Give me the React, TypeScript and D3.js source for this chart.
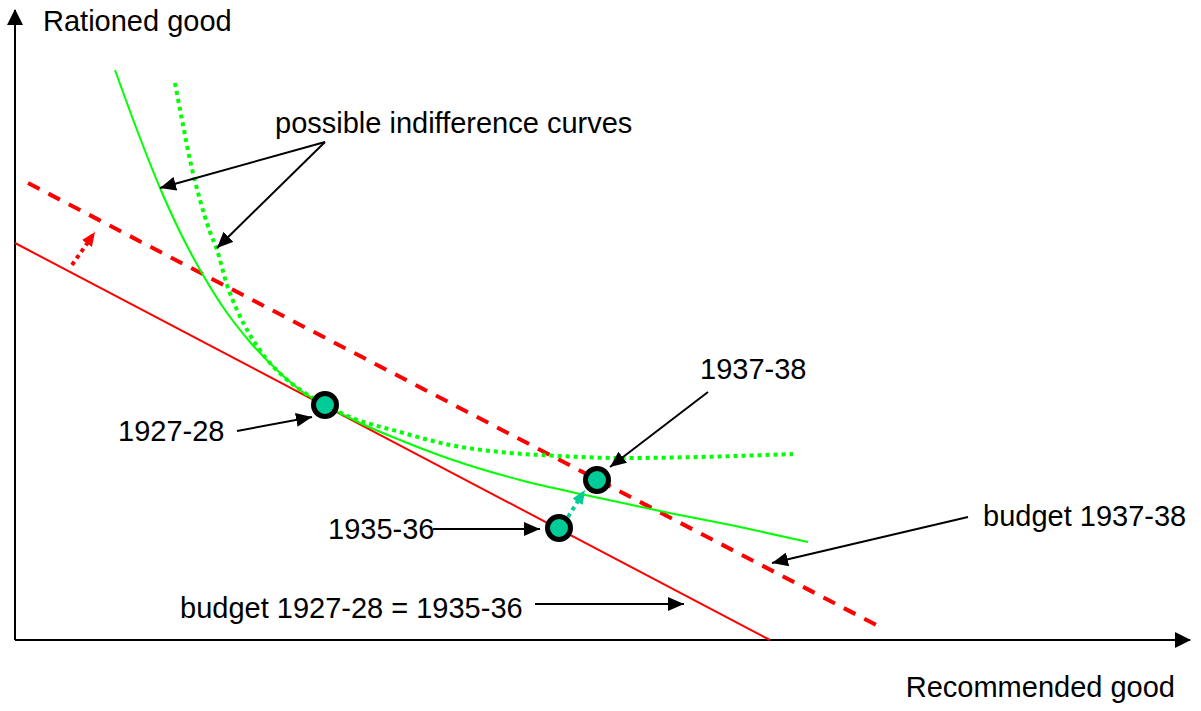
import * as d3 from 'd3'

// chart units: x = quantity of recommended good, y = quantity of rationed good
const budget1927 = [[0, 397], [755, 0]]
const budget1937 = [[13, 457], [867, 12]]

const indifferenceSolid = [
  [100, 570], [122, 510], [145, 452], [165, 408], [188, 365], [210, 330],
  [235, 298], [265, 267], [285, 250], [310, 235], [345, 217], [385, 200],
  [435, 181], [505, 160], [575, 144], [645, 129], [725, 113], [793, 98],
]

const indifferenceDotted = [
  [160, 557], [168, 515], [175, 480], [185, 440], [195, 408], [202, 390],
  [212, 355], [222, 330], [235, 305], [250, 283], [270, 262], [290, 247],
  [310, 235], [335, 223], [385, 208], [435, 195], [485, 188], [545, 184],
  [605, 182], [685, 183], [778, 186],
]

const observations = [
  { year: '1927-28', x: 310, y: 235 },
  { year: '1935-36', x: 544, y: 112 },
  { year: '1937-38', x: 582, y: 160 },
]

// shift of the budget line and of the chosen bundle
const budgetShift = [[57, 375], [80, 408]]
const bundleShift = [[553, 123], [570, 150]]

const labels = [
  { text: 'Rationed good', x: 28, y: 609, anchor: 'start' },
  { text: 'Recommended good', x: 1160, y: -57, anchor: 'end' },
  { text: 'possible indifference curves', x: 260, y: 507, anchor: 'start' },
  { text: '1927-28', x: 103, y: 199, anchor: 'start' },
  { text: '1937-38', x: 685, y: 261, anchor: 'start' },
  { text: '1935-36', x: 313, y: 101, anchor: 'start' },
  { text: 'budget 1937-38', x: 968, y: 114, anchor: 'start' },
  { text: 'budget 1927-28 = 1935-36', x: 165, y: 22, anchor: 'start' },
]

const pointers = [
  [[310, 498], [145, 452]],
  [[310, 498], [202, 392]],
  [[222, 209], [297, 223]],
  [[693, 248], [595, 173]],
  [[418, 111], [525, 111]],
  [[953, 123], [757, 77]],
  [[520, 36], [669, 36]],
]

const W = 1201
const H = 711

export default function App() {
  const x = d3.scaleLinear().domain([0, 1175]).range([15, 1190])
  const y = d3.scaleLinear().domain([0, 630]).range([640, 10])
  const line = d3.line<number[]>().x(d => x(d[0])).y(d => y(d[1]))
  const smooth = d3.line<number[]>().x(d => x(d[0])).y(d => y(d[1])).curve(d3.curveMonotoneX)
  const font = '"Liberation Sans", Arial, sans-serif'

  return (
    <svg width={W} height={H} style={{ position: 'absolute', left: 0, top: 0, background: '#fff' }}>
      <defs>
        <marker id="blackHead" viewBox="0 0 16 14" refX="16" refY="7" markerWidth="16" markerHeight="14"
          markerUnits="userSpaceOnUse" orient="auto">
          <path d="M0,0 L16,7 L0,14 Z" fill="#000" />
        </marker>
        <marker id="axisHead" viewBox="0 0 16 16" refX="15" refY="8" markerWidth="16" markerHeight="16"
          markerUnits="userSpaceOnUse" orient="auto">
          <path d="M0,0 L16,8 L0,16 Z" fill="#000" />
        </marker>
        <marker id="redHead" viewBox="0 0 14 12" refX="14" refY="6" markerWidth="14" markerHeight="12"
          markerUnits="userSpaceOnUse" orient="auto">
          <path d="M0,0 L14,6 L0,12 Z" fill="#ff0000" />
        </marker>
        <marker id="tealHead" viewBox="0 0 14 12" refX="14" refY="6" markerWidth="14" markerHeight="12"
          markerUnits="userSpaceOnUse" orient="auto">
          <path d="M0,0 L14,6 L0,12 Z" fill="#00cc99" />
        </marker>
      </defs>

      {/* axes */}
      <line x1={x(0)} y1={y(0)} x2={x(0)} y2={y(630)} stroke="#000" strokeWidth={2} markerEnd="url(#axisHead)" />
      <line x1={x(0)} y1={y(0)} x2={x(1175)} y2={y(0)} stroke="#000" strokeWidth={2} markerEnd="url(#axisHead)" />

      {/* budget lines */}
      <path d={line(budget1927)!} stroke="#ff0000" strokeWidth={2} fill="none" />
      <path d={line(budget1937)!} stroke="#ff0000" strokeWidth={4} strokeDasharray="13,10" fill="none" />

      {/* indifference curves */}
      <path d={smooth(indifferenceSolid)!} stroke="#00ff00" strokeWidth={2} fill="none" />
      <path d={smooth(indifferenceDotted)!} stroke="#00ff00" strokeWidth={4} strokeDasharray="4,4" fill="none" />

      {/* shift arrows */}
      <path d={line(budgetShift)!} stroke="#ff0000" strokeWidth={4} strokeDasharray="4,4" fill="none"
        markerEnd="url(#redHead)" />
      <path d={line(bundleShift)!} stroke="#00cc99" strokeWidth={4} strokeDasharray="4,4" fill="none"
        markerEnd="url(#tealHead)" />

      {/* observed bundles */}
      {observations.map(o => (
        <circle key={o.year} cx={x(o.x)} cy={y(o.y)} r={11.5} fill="#00cc99" stroke="#000" strokeWidth={5} />
      ))}

      {/* annotation pointers */}
      {pointers.map((p, i) => (
        <path key={i} d={line(p)!} stroke="#000" strokeWidth={2} fill="none" markerEnd="url(#blackHead)" />
      ))}

      {labels.map(l => (
        <text key={l.text} x={x(l.x)} y={y(l.y)} textAnchor={l.anchor} fontFamily={font} fontSize={29} fill="#000">
          {l.text}
        </text>
      ))}
    </svg>
  )
}
